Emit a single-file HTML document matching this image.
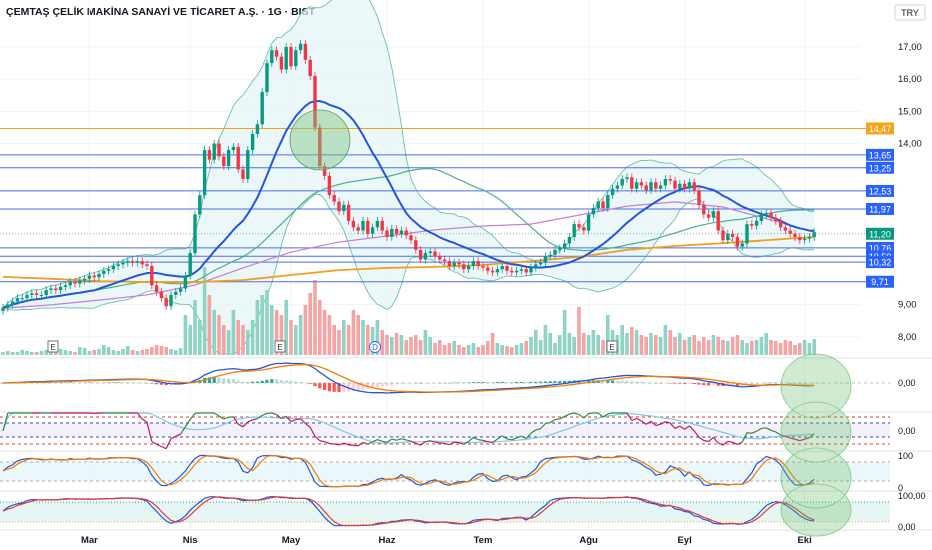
<!DOCTYPE html>
<html><head><meta charset="utf-8">
<style>
html,body{margin:0;padding:0;background:#fff;}
svg{display:block;font-family:"Liberation Sans",sans-serif;}
</style></head>
<body>
<svg id="chart" width="932" height="550" viewBox="0 0 932 550">
<rect x="0" y="0" width="932" height="550" fill="#ffffff"/>
<text x="6" y="15" font-size="10.5" font-weight="bold" fill="#131722">ÇEMTAŞ ÇELİK MAKİNA SANAYİ VE TİCARET A.Ş. · 1G · BIST</text>
<g><rect x="895" y="5" width="30" height="15" rx="2" fill="#fff" stroke="#d1d4dc"/><text x="910" y="16" font-size="9" text-anchor="middle" fill="#131722">TRY</text></g>
</svg>
<script>
const closes=[8.9,9.0,9.1,9.2,9.2,9.3,9.35,9.3,9.3,9.45,9.5,
9.45,9.55,9.6,9.7,9.65,9.75,9.8,9.9,9.85,9.95,
10.05,10.1,10.2,10.25,10.3,10.35,10.3,10.35,10.25,10.2,
9.6,9.4,9.2,8.95,9.3,9.4,9.5,
9.9,10.6,11.8,12.4,13.8,13.5,14.0,13.6,
13.3,13.8,13.9,13.2,12.9,13.8,14.3,14.6,15.6,16.5,
16.9,16.7,16.3,17.0,16.4,16.9,17.1,16.6,16.1,14.5,
13.3,13.0,12.4,12.2,11.9,12.1,11.6,11.4,11.3,11.6,
11.2,11.4,11.6,11.3,11.1,11.35,11.2,11.3,11.15,11.0,
10.7,10.4,10.6,10.65,10.5,10.4,10.35,10.2,10.3,10.25,
10.1,10.2,10.35,10.2,10.15,10.05,10.0,10.1,10.2,10.05,
10.0,10.05,10.1,10.0,10.15,10.25,10.3,10.5,10.55,10.7,
10.75,10.9,11.1,11.5,11.4,11.3,11.8,12.0,12.2,12.0,
12.4,12.6,12.7,12.9,12.95,12.6,12.8,12.7,12.55,12.8,
12.6,12.7,12.9,12.85,12.6,12.75,12.6,12.8,12.55,12.1,
11.8,11.7,11.9,11.3,11.0,11.2,11.1,10.8,10.9,11.5,
11.45,11.6,11.8,11.85,11.7,11.6,11.4,11.3,11.2,11.1,
11.0,11.05,11.1,11.25];
const volumes=[3,4,3,3,5,4,3,3,4,5,4,3,6,5,4,3,8,7,4,5,6,10,8,5,4,6,9,5,4,5,6,8,10,9,8,6,5,7,
40,30,55,35,88,60,45,40,30,25,45,35,30,25,35,55,60,65,
50,45,40,55,35,30,40,50,62,75,55,45,40,30,25,35,30,45,40,35,
30,28,35,25,20,18,22,20,15,18,20,15,25,18,12,15,10,12,14,10,
8,10,12,8,10,14,22,12,10,9,8,10,12,14,18,25,15,30,22,12,
20,45,22,18,48,22,20,25,20,15,40,25,20,30,22,28,25,20,18,22,
20,18,30,25,18,22,15,18,20,14,18,15,20,18,15,14,18,20,15,12,
14,15,18,22,15,14,12,15,14,10,12,15,12,16];
const purpleMA=[8.89,8.99,9.14,9.30,9.61,10.14,10.63,10.94,11.13,11.32,11.44,11.50,11.78,12.06,12.19,12.03,11.63,11.25];
const orangeMA=[9.86,9.80,9.73,9.70,9.70,9.76,9.92,10.07,10.14,10.17,10.23,10.35,10.48,10.70,10.82,10.91,11.01,11.10];
const levels=[14.47,13.65,13.25,12.53,11.97,10.76,10.50,10.32,9.71];
const levelLabels=["14,47","13,65","13,25","12,53","11,97","10,76","10,50","10,32","9,71"];
const priceTicks=[17,16,15,14,9,8];
const priceTickLabels=["17,00","16,00","15,00","14,00","9,00","8,00"];
const months=["Mar","Nis","May","Haz","Tem","Ağu","Eyl","Eki"];
const monthIdx=[18,39,60,80,100,122,142,167];

const NS="http://www.w3.org/2000/svg";
const svg=document.getElementById('chart');
const N=closes.length;
const X=i=>3+i*4.8;
const Y=p=>47+(17-p)*32.2;
const VY=v=>355-v;
const clamp=(v,a,b)=>Math.max(a,Math.min(b,v));
function mk(tag,attrs,parent){const e=document.createElementNS(NS,tag);for(const k in attrs)e.setAttribute(k,attrs[k]);(parent||svg).appendChild(e);return e;}
function pts(arr,xf,yf){return arr.map((v,i)=>v==null?null:xf(i).toFixed(1)+","+yf(v).toFixed(1)).filter(s=>s).join(" ");}
function sma(a,n){return a.map((_,i)=>{const s=Math.max(0,i-n+1);let t=0;for(let j=s;j<=i;j++)t+=a[j];return t/(i-s+1);});}
function ema(a,n){const k=2/(n+1);let r=[];a.forEach((v,i)=>r.push(i?v*k+r[i-1]*(1-k):v));return r;}

const grid=mk('g',{stroke:'#f0f3fa','stroke-width':1});


monthIdx.forEach(i=>mk('line',{x1:X(i),x2:X(i),y1:0,y2:530},grid));
priceTicks.forEach(p=>mk('line',{x1:0,x2:860,y1:Y(p),y2:Y(p)},grid));
[358,412,451,491,530].forEach(y=>{const l=mk('line',{x1:0,x2:932,y1:y,y2:y,stroke:'#e0e3eb','stroke-width':1});

});

const mid=sma(closes,20);
const sd=closes.map((_,i)=>{const s=Math.max(0,i-19);let m=mid[i],t=0;for(let j=s;j<=i;j++)t+=(closes[j]-m)**2;return Math.sqrt(t/(i-s+1));});
const up=mid.map((m,i)=>m+2*sd[i]),lo=mid.map((m,i)=>m-2*sd[i]);
const bandPath="M"+pts(up,X,Y).split(" ").join(" L")+" L"+pts(lo,X,Y).split(" ").reverse().join(" L")+" Z";
const band=mk('path',{d:bandPath,fill:'#e3f4f7','fill-opacity':0.7,stroke:'none'});


const bu=mk('polyline',{points:pts(up,X,Y),fill:'none',stroke:'#6cc0a8','stroke-width':0.9});


const bl=mk('polyline',{points:pts(lo,X,Y),fill:'none',stroke:'#6cc0a8','stroke-width':0.9});



volumes.forEach((v,i)=>{const upc=closes[i]>=(i?closes[i-1]:8.8);
const r=mk('rect',{x:X(i)-1.8,y:VY(v),width:3.6,height:v,fill:upc?'#8fd3c4':'#f5a3a3'});

});

levels.forEach((p,k)=>{const l=mk('line',{x1:0,x2:866,y1:Y(p),y2:Y(p),stroke:k==0?'#f7a21b':'#4a6fe8','stroke-width':1});

});
const cl=mk('line',{x1:0,x2:866,y1:Y(11.2),y2:Y(11.2),stroke:'#8fb3a8','stroke-width':1,'stroke-dasharray':'1,2'});



const xs=i=>X(Math.min(i*10,N-1));
const pm=mk('polyline',{points:pts(purpleMA,xs,Y),fill:'none',stroke:'#c77ed8','stroke-width':1.2});


const s50=sma(closes,50);
const gm=mk('polyline',{points:pts(s50,X,Y),fill:'none',stroke:'#4caf8a','stroke-width':1.2});


const om=mk('polyline',{points:pts(orangeMA,xs,Y),fill:'none',stroke:'#f59c1a','stroke-width':1.8});


const bm=mk('polyline',{points:pts(mid,X,Y),fill:'none',stroke:'#2356d8','stroke-width':2});



closes.forEach((c,i)=>{const o=i?closes[i-1]:8.8;const upc=c>=o;const col=upc?'#089981':'#f23645';
const hi=Math.max(o,c)+0.12,lw=Math.min(o,c)-0.12;
const g=mk('g',{});


mk('line',{x1:X(i),x2:X(i),y1:Y(hi),y2:Y(lw),stroke:col,'stroke-width':0.8},g);
const t=Y(Math.max(o,c)),h=Math.max(1,Y(Math.min(o,c))-t);
mk('rect',{x:X(i)-1.7,y:t,width:3.4,height:h,fill:col},g);});

const ci=mk('circle',{cx:320,cy:140,r:30,fill:'#7cc47f','fill-opacity':0.45,stroke:'#5a9e5c','stroke-width':0.8});



[[53,'E'],[280,'E'],[612,'E']].forEach(m=>{const g=mk('g',{});


mk('rect',{x:m[0]-5,y:341,width:10,height:11,fill:'#fff',stroke:'#555','stroke-width':0.8},g);
const t=mk('text',{x:m[0],y:350,'font-size':8,'text-anchor':'middle',fill:'#333'},g);t.textContent=m[1];});
{const g=mk('g',{});


mk('circle',{cx:375,cy:347,r:5.5,fill:'#fff',stroke:'#2962ff','stroke-width':0.9},g);
const t=mk('text',{x:375,y:350,'font-size':8,'text-anchor':'middle',fill:'#2962ff'},g);t.textContent='D';}

// MACD
const e12=ema(closes,12),e26=ema(closes,26);
const macd=e12.map((v,i)=>v-e26[i]);
const sig=ema(macd,9);
const mmax=Math.max(...macd.map(Math.abs));
const mk_=20/mmax;
const MY=v=>clamp(383-v*mk_,361,404);
macd.forEach((v,i)=>{const h=v-sig[i];const prev=i?macd[i-1]-sig[i-1]:0;
const col=h>=0?(h>=prev?'#26a69a':'#b2dfdb'):(h<prev?'#ff5252':'#ffcdd2');
const r=mk('rect',{x:X(i)-1.6,y:Math.min(MY(h),383),width:3.2,height:Math.max(0.5,Math.abs(MY(h)-383)),fill:col});

});
const mz=mk('line',{x1:0,x2:890,y1:383,y2:383,stroke:'#aaa','stroke-dasharray':'3,3','stroke-width':0.8});


const ml=mk('polyline',{points:pts(macd,X,MY),fill:'none',stroke:'#2356d8','stroke-width':1.3});


const ms=mk('polyline',{points:pts(sig,X,MY),fill:'none',stroke:'#f57c00','stroke-width':1.3});



// RSI
let rsi=[50],ag=0,al=0;
for(let i=1;i<N;i++){const d=closes[i]-closes[i-1];const g=Math.max(d,0),l=Math.max(-d,0);
if(i<=9){ag=(ag*(i-1)+g)/i;al=(al*(i-1)+l)/i;}else{ag=(ag*8+g)/9;al=(al*8+l)/9;}
rsi.push(al==0?100:100-100/(1+ag/al));}
const rsig=sma(rsi,14);
const RY=v=>clamp(431-(v-50)*0.55,413,449);
const rb=mk('rect',{x:0,y:423,width:890,height:14,fill:'#ede7f6','fill-opacity':0.6});


[[417,'#e53935'],[423,'#3949ab'],[437,'#3949ab'],[444,'#e53935']].forEach(d=>{const l=mk('line',{x1:0,x2:890,y1:d[0],y2:d[0],stroke:d[1],'stroke-dasharray':'3,3','stroke-width':0.9});

});
const rsl=mk('polyline',{points:pts(rsig,X,RY),fill:'none',stroke:'#7ec8e8','stroke-width':1.2});


for(let i=1;i<N;i++){const l=mk('line',{x1:X(i-1),y1:RY(rsi[i-1]),x2:X(i),y2:RY(rsi[i]),stroke:rsi[i]>=rsig[i]?'#2e8b3a':'#c2185b','stroke-width':1.2});

}

// Stochastic
function stoch(n,ks,ds){const raw=closes.map((c,i)=>{const s=Math.max(0,i-n+1);const w=closes.slice(s,i+1);const h=Math.max(...w)+0.05,l=Math.min(...w)-0.05;return (c-l)/(h-l)*100;});
const k=sma(raw,ks);return [k,sma(k,ds)];}
const [sk,sd3]=stoch(9,3,3);
const SY=v=>487-v*0.32;
const sb=mk('rect',{x:0,y:462,width:890,height:19,fill:'#e6f6fa','fill-opacity':0.8});


[462,481].forEach(y=>{const l=mk('line',{x1:0,x2:890,y1:y,y2:y,stroke:'#999','stroke-dasharray':'3,3','stroke-width':0.8});

});
const skl=mk('polyline',{points:pts(sk,X,SY),fill:'none',stroke:'#2356d8','stroke-width':1.2});


const sdl=mk('polyline',{points:pts(sd3,X,SY),fill:'none',stroke:'#f57c00','stroke-width':1.2});



// Panel 4
const [pk,pd]=stoch(12,5,3);
const PY=v=>526-v*0.3;
const pb=mk('rect',{x:0,y:502,width:890,height:20,fill:'#e0f4f1','fill-opacity':0.8});


[[502,'#26a69a'],[522,'#f5b041']].forEach(d=>{const l=mk('line',{x1:0,x2:890,y1:d[0],y2:d[0],stroke:d[1],'stroke-dasharray':'1,2','stroke-width':0.9});

});
const pkl=mk('polyline',{points:pts(pk,X,PY),fill:'none',stroke:'#2356d8','stroke-width':1.2});


const pdl=mk('polyline',{points:pts(pd,X,PY),fill:'none',stroke:'#e53935','stroke-width':1.2});



// green scalloped column
const col=mk('g',{});


const ells=[[386,32],[432,30],[478,30],[510,26]];
const cg=mk('g',{opacity:0.3},col);
ells.forEach(d=>mk('ellipse',{cx:816,cy:d[0],rx:35,ry:d[1],fill:'#66bb6a'},cg));
ells.forEach(d=>mk('ellipse',{cx:816,cy:d[0],rx:35,ry:d[1],fill:'none',stroke:'#81c784','stroke-width':0.8},col));

priceTicks.forEach((p,k)=>{const t=mk('text',{x:898,y:Y(p)+3,'font-size':9.5,fill:'#131722'});t.textContent=priceTickLabels[k];

});
levels.forEach((p,k)=>{const g=mk('g',{});


mk('rect',{x:866,y:Y(p)-6,width:28,height:12,fill:k==0?'#f7a21b':'#2962ff'},g);
const t=mk('text',{x:880,y:Y(p)+3.5,'font-size':9,'text-anchor':'middle',fill:'#fff'},g);t.textContent=levelLabels[k];});
{const g=mk('g',{});


mk('rect',{x:866,y:Y(11.2)-6,width:28,height:12,fill:'#089981'},g);
const t=mk('text',{x:880,y:Y(11.2)+3.5,'font-size':9,'text-anchor':'middle',fill:'#fff'},g);t.textContent='11,20';}
[[383,'0,00'],[431,'0,00'],[456,'100'],[488,'0'],[496,'100,00'],[527,'0,00']].forEach(d=>{const t=mk('text',{x:898,y:d[0]+3,'font-size':9,fill:'#131722'});t.textContent=d[1];

});
months.forEach((m,k)=>{const t=mk('text',{x:X(monthIdx[k]),y:543,'font-size':9.5,'font-weight':'bold','text-anchor':'middle',fill:'#131722'});t.textContent=m;

});
</script>
</body></html>
